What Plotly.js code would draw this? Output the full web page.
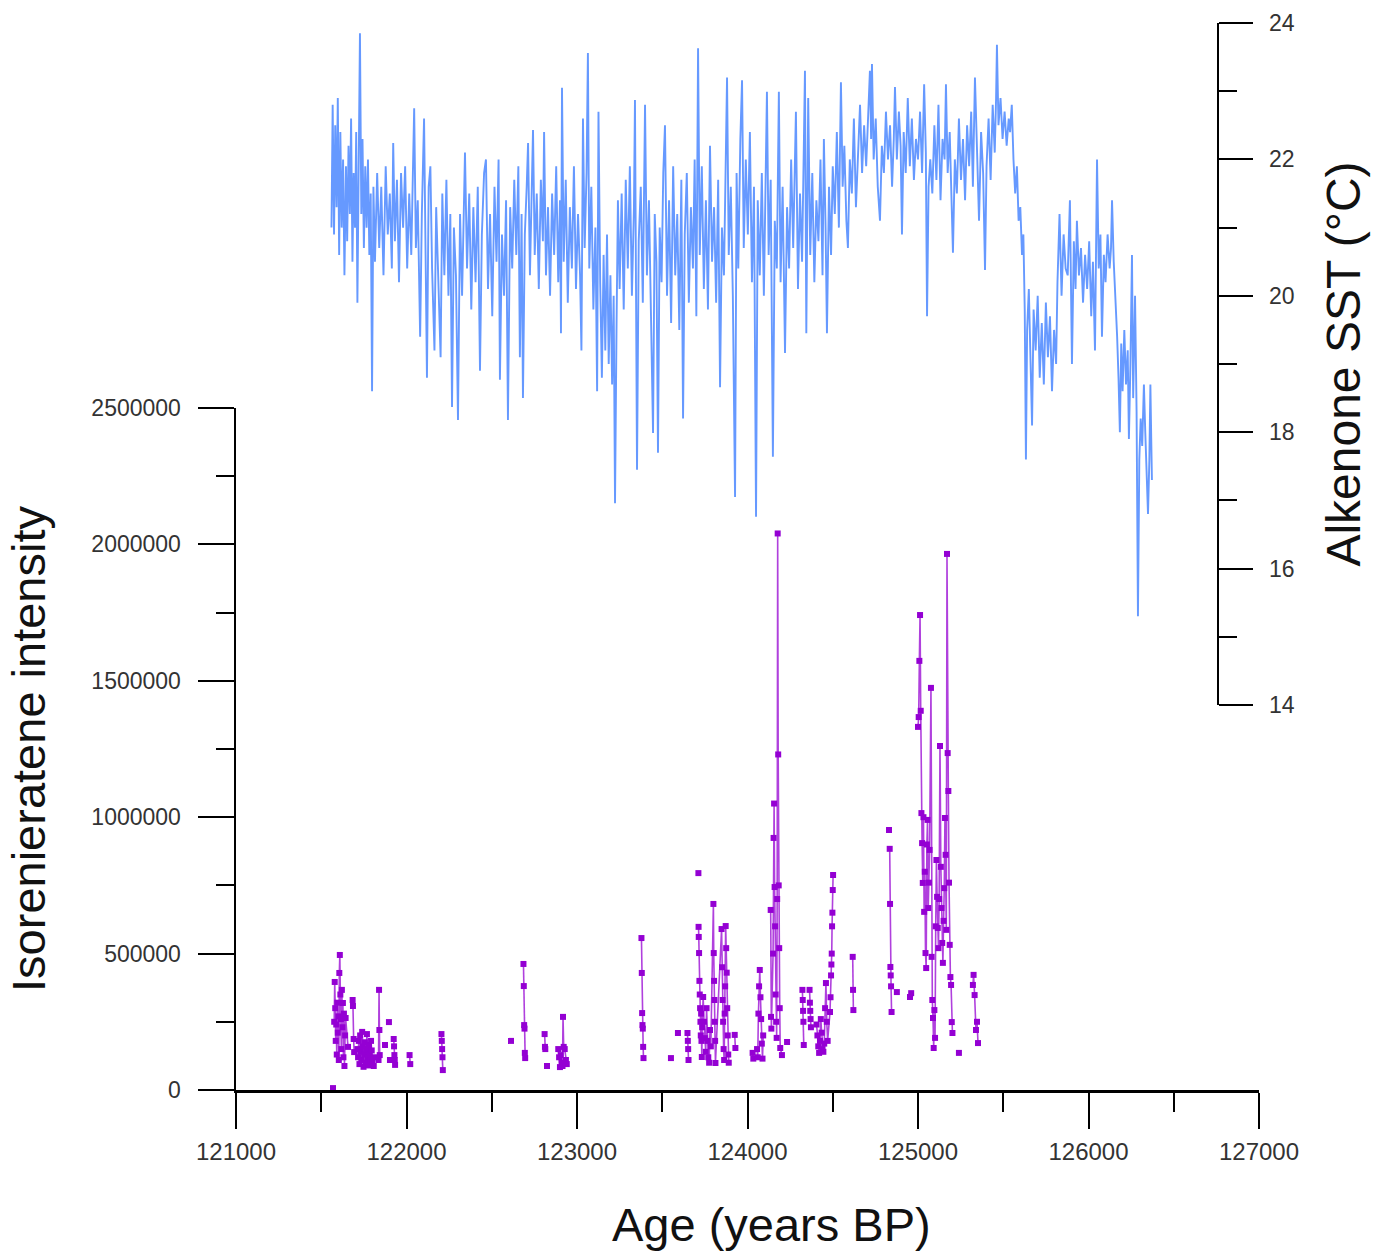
<!DOCTYPE html>
<html><head><meta charset="utf-8">
<script src="https://cdn.plot.ly/plotly-3.0.1.min.js"></script>
<style>html,body{margin:0;padding:0;background:#fff}#chart{width:1389px;height:1253px}</style>
</head><body><div id="chart"></div>
<script>
// Alkenone SST (°C) record
const sstAge = [
121560,121567,121575,121582,121590,121597,121605,121612,121620,121628,121636,121645,121652,121660,121668,121675,121683,121690,121698,121705,121712,121720,121727,121735,121742,121750,121758,121766,121774,121782,121790,121798,121806,
121815,121828,121840,121852,121865,121878,121890,121902,121914,121922,121932,121944,121956,121968,121980,121992,122004,122016,122028,122038,122045,122055,122066,122080,122090,122103,122112,122120,
122130,122140,122150,122164,122174,122186,122200,122210,122222,122234,122246,122257,122267,122278,122290,122302,
122314,122326,122343,122355,122368,122380,122392,122405,122418,122431,122442,122455,122466,122478,122490,122503,122516,122528,122540,122548,122560,122572,122584,122595,
122608,122620,122632,122644,122656,122665,122675,122683,122694,122705,122713,122724,122735,122742,122752,122764,122776,122788,122800,122807,122818,122830,122842,122854,
122866,122878,122890,122900,122906,122912,122922,122934,122946,122958,122970,122982,122994,123006,123018,123026,123035,123045,123056,123064,123072,123084,123096,123108,123118,123126,123136,123146,
123156,123166,123176,123186,123196,123206,123215,123223,123232,123240,
123250,123262,123274,123286,123298,123310,123322,123334,123340,123352,123362,123374,123386,123399,123410,123422,123434,123446,123456,123466,123475,123485,123496,123506,123516,
123528,123540,123552,123564,123576,123588,123600,123612,123622,123632,123644,123656,123668,123680,123690,123700,123710,123720,
123732,123744,123756,123768,123780,123792,123804,123816,123828,123839,123850,123862,123872,123880,123890,123902,123914,123927,
123936,123946,123958,123968,123978,123990,124002,124014,124026,124038,124050,
124060,124072,124084,124096,124106,124114,124124,124136,124149,124160,124172,124184,
124194,124206,124220,124232,124244,124256,124268,124284,124296,124308,124320,124330,124337,124345,124356,124368,124380,124392,124404,124416,124428,124440,124448,124458,124466,124478,124490,124500,
124512,124524,124536,124548,124558,124568,124580,124589,124600,124612,124624,124636,124648,
124660,124672,124684,124696,124708,124718,124725,124730,124740,124752,124764,124777,124788,124800,124812,124824,124836,124848,124858,124865,124876,124888,
124898,124906,124916,124928,124940,124952,124964,124976,124988,125000,125012,125024,125036,125046,
125053,125062,125072,
125084,125096,125108,125120,125132,125144,125156,125164,125174,125186,125196,125205,125216,125228,125240,125252,125264,125276,125288,125300,125312,125322,125334,125346,125358,125370,125382,125393,
125402,125414,125426,125438,125450,125458,125463,125472,125484,125496,125508,125520,125532,125540,125550,
125560,125570,125580,125590,125600,125610,125618,
125626,125633,125640,
125650,125660,125669,125678,125690,125702,125714,125726,125738,125750,125762,125774,125786,125798,125810,125818,
125830,125842,125854,125866,125878,125891,125903,125914,125924,125932,125944,125956,125968,125980,125992,126004,126016,126026,126038,126050,126060,126070,126079,126090,126100,126112,126124,126132,126138,126148,126158,
126168,126176,126184,126192,126200,126210,126220,126230,126237,126246,126255,126262,126273,126282,126290,
126298,126306,126315,126325,126333,126341,126349,126357,126363,126368,126372
];
const sstVal = [
21.0,22.8,20.9,22.5,21.3,22.9,20.6,22.4,21.0,22.0,20.3,21.9,20.8,22.2,21.2,22.6,20.5,21.8,21.0,22.4,19.9,22.0,23.85,21.2,22.3,20.7,21.9,21.0,22.0,20.6,21.5,18.6,21.6,
20.5,21.8,20.7,21.6,20.3,21.9,20.9,21.5,20.4,22.24,20.8,21.7,20.2,21.8,21.0,21.9,20.4,21.5,20.6,21.8,22.75,20.7,21.4,19.4,21.2,22.6,20.5,18.8,
21.6,21.9,20.4,19.2,21.3,20.1,19.1,21.5,20.3,21.7,20.0,21.2,18.37,21.0,20.3,18.18,
21.2,20.0,22.1,20.4,21.5,19.8,21.3,20.2,21.6,18.9,20.9,21.8,22.0,20.1,21.2,19.7,21.6,20.5,22.0,18.77,20.9,20.0,21.4,18.18,
21.3,20.4,21.7,20.6,21.9,19.1,21.2,18.5,20.9,21.6,22.24,20.3,21.8,22.43,20.6,21.5,20.1,21.7,20.8,22.4,20.3,21.3,20.0,21.5,
20.6,21.9,20.2,21.4,19.45,23.05,20.5,21.7,19.9,21.3,20.4,21.9,20.1,21.2,20.3,19.2,22.6,20.7,21.8,23.56,20.4,21.6,19.8,21.0,18.6,22.7,20.2,18.8,
20.6,19.2,20.9,19.0,20.3,18.7,20.0,16.96,19.6,21.4,
20.1,21.5,19.8,21.7,20.4,21.9,20.0,21.3,22.87,17.45,20.8,21.6,19.9,22.8,20.3,21.4,19.7,17.99,21.2,20.5,17.7,21.0,20.2,21.8,22.5,
20.0,21.4,19.6,21.9,20.3,21.2,19.5,21.7,18.2,20.9,21.8,19.9,21.3,20.4,22.0,19.7,23.63,20.6,
21.9,20.1,21.4,19.8,22.2,20.5,21.3,19.9,21.7,18.66,21.0,20.3,21.8,23.2,20.6,21.6,20.0,17.05,
21.8,20.4,22.3,23.16,20.7,22.0,20.9,22.4,20.2,21.6,16.76,
21.4,20.3,21.8,20.0,21.5,22.99,20.6,21.7,17.64,21.1,20.4,22.99,
20.2,21.6,19.16,21.3,20.4,22.0,20.7,22.7,20.1,21.5,20.5,21.9,23.3,19.45,22.9,20.6,21.8,20.2,21.4,20.8,22.0,20.3,22.3,21.0,19.45,21.6,20.6,21.9,
21.2,22.4,21.0,23.13,21.6,22.2,21.1,20.7,22.0,21.5,22.6,21.3,22.2,
22.8,21.8,22.5,21.9,22.7,23.3,22.3,23.4,22.0,22.6,21.6,21.1,22.2,21.8,22.7,22.0,22.5,21.6,22.3,23.06,22.0,22.7,
22.2,20.9,22.4,21.8,22.9,21.9,22.6,21.7,22.3,22.0,22.7,21.8,23.1,22.1,
19.7,21.6,22.0,
21.5,22.5,21.7,22.8,21.4,22.3,22.0,23.1,21.8,22.4,21.3,20.63,22.0,21.5,22.6,21.7,22.3,21.4,22.5,21.9,22.7,21.6,23.2,22.0,21.1,22.4,21.8,20.38,
21.9,22.6,21.7,22.8,22.1,22.9,23.68,22.5,22.9,22.3,22.7,22.2,22.6,22.4,22.8,
22.0,21.5,21.9,21.1,21.3,20.6,20.9,
19.8,17.6,19.5,
20.1,19.0,18.1,19.8,19.2,20.0,18.8,19.6,18.7,19.9,19.1,19.7,18.6,19.5,19.0,20.2,
21.2,20.0,20.9,20.4,20.3,21.4,19.0,20.8,20.1,21.1,20.3,20.7,19.9,20.6,20.1,20.8,19.7,20.5,19.2,22.0,20.4,20.9,19.4,20.6,20.2,20.9,20.4,20.7,21.4,20.5,20.0,
19.4,18.8,18.0,19.3,18.6,19.5,18.7,19.2,17.9,19.0,20.6,18.5,20.0,18.3,15.3,
17.6,18.2,17.8,18.7,18.0,17.3,16.8,17.6,18.7,17.9,17.3
];

// Isorenieratene intensity, sample groups (lines break between groups)
const isoAgeGroups = [
[121569],
[121576,121579,121582,121585,121588,121591,121594,121597,121600,121603,121606,121609,121612,121615,121618,121621,121624,121627,121630,121633,121636,121640,121643,121657],
[121684,121686,121690,121693],
[121712,121716,121720,121724,121728,121732,121736,121740,121744,121748,121752,121756,121760,121764,121768,121772,121776,121780,121784,121788,121792,121796,121800,121808,121815],
[121836,121839,121841,121843],
[121874],[121897],[121903],
[121925,121927,121929,121931,121933],
[122018,122022],
[122205,122207,122209,122211,122213],
[122613],
[122686,122688,122690,122692,122694,122696],
[122810,122812,122814],
[122824],
[122890,122895,122900,122905,122910,122915,122918,122922,122928,122935,122940],
[123378,123380,123382,123384,123386,123388,123390],
[123551],[123592],
[123648,123650,123652,123654],
[123712],
[123713,123714,123716,123718,123720,123722,123724,123726,123728,123730,123732,123734,123740,123745,123750,123755,123760,123765,123770,123775,123780,123785,123800,123802,123804,123806,123808,123810,123812,123848,123851,123854,123857,123860,123863,123866,123869,123872,123875,123878,123881,123884,123887,123890],
[123925,123929],
[124030,124034],
[124056,124060,124064,124068,124072,124076,124080,124084,124088,124092],
[124136,124138,124140,124150,124153,124156,124159,124162,124165,124168,124171,124174,124177,124180,124183,124186,124189,124192,124202],
[124232],
[124322,124324,124326,124328,124330],
[124364,124366,124368,124370,124372],
[124405,124410,124415,124420,124425,124430,124435,124440,124445,124450,124455,124460,124465,124470,124484,124487,124490,124492,124494,124496,124498,124500,124502],
[124617,124619,124621],
[124830],
[124834,124836,124838,124840,124842,124845],
[124876],
[124953,124960],
[125000,125004,125008,125012,125016,125020,125024,125028,125032,125036,125040,125044,125048,125052,125056,125060,125064,125068,125076,125080,125084,125088,125092,125096,125100,125104,125108,125112,125116,125120,125124,125129,125134,125138,125142,125146,125150,125154,125158,125162,125166,125170,125174,125178,125182,125186,125190,125194,125198,125202],
[125240],
[125322,125326,125332,125340,125346,125352]
];
const isoValGroups = [
[7000],
[250000,396000,300000,180000,240000,130000,320000,210000,270000,110000,429000,495000,350000,260000,150000,367000,230000,319000,120000,280000,88000,200000,264000,158000],
[330000,308000,187000,139000],
[150000,120000,180000,95000,200000,140000,110000,213000,160000,85000,130000,175000,100000,150000,205000,120000,90000,165000,130000,110000,180000,145000,100000,88000,120000],
[110000,367000,220000,128000],
[165000],[249000],[110000],
[187000,160000,128000,110000,92000],
[128000,95000],
[205000,180000,150000,120000,73000],
[180000],
[462000,381000,238000,225000,136000,117000],
[205000,158000,150000],
[88000],
[150000,120000,84000,128000,100000,88000,268000,158000,150000,110000,95000],
[557000,429000,282000,238000,225000,158000,117000],
[117000],[209000],
[209000,180000,150000,110000],
[795000],
[598000,561000,502000,400000,350000,300000,250000,200000,280000,180000,121000,230000,341000,250000,190000,140000,300000,180000,120000,100000,220000,160000,682000,502000,400000,330000,250000,180000,99000,590000,450000,330000,250000,150000,110000,280000,380000,601000,520000,430000,300000,200000,130000,100000],
[202000,154000],
[136000,115000],
[150000,120000,280000,380000,440000,340000,260000,170000,115000,200000],
[660000,268000,225000,500000,924000,1050000,744000,600000,350000,250000,191000,700000,2040000,1230000,750000,520000,300000,154000,128000],
[176000],
[367000,330000,290000,250000,165000],
[367000,320000,290000,260000,230000],
[240000,200000,160000,136000,180000,260000,210000,150000,140000,170000,300000,392000,250000,180000,286000,340000,420000,460000,500000,600000,650000,733000,788000],
[488000,367000,293000],
[953000],
[884000,682000,451000,420000,380000,286000],
[359000],
[341000,355000],
[1331000,1367000,1573000,1741000,1390000,1015000,905000,759000,1000000,653000,800000,502000,447000,900000,990000,667000,760000,880000,1474000,488000,330000,264000,154000,293000,191000,600000,843000,708000,594000,520000,700000,1261000,818000,667000,539000,466000,620000,740000,997000,862000,587000,1965000,1235000,1096000,760000,532000,414000,385000,249000,209000],
[136000],
[385000,422000,348000,220000,250000,172000]
];

const xTickVals = [121000,122000,123000,124000,125000,126000,127000];
const xTickText = ['121000','122000','123000','124000','125000','126000','127000'];
const isoTickVals = [0,500000,1000000,1500000,2000000,2500000];
const isoTickText = ['0','500000','1000000','1500000','2000000','2500000'];
const sstTickVals = [14,16,18,20,22,24];
const sstTickText = ['14','16','18','20','22','24'];

const isoX = [], isoY = [];
isoAgeGroups.forEach((g, i) => {
  g.forEach((a, j) => { isoX.push(a); isoY.push(isoValGroups[i][j]); });
  isoX.push(null); isoY.push(null);
});

const tickFont = {family: 'Liberation Sans, Arial, sans-serif', size: 23, color: '#333'};
const titleFont = {family: 'Liberation Sans, Arial, sans-serif', size: 47, color: '#111'};

const traces = [
  {x: sstAge, y: sstVal, type: 'scatter', mode: 'lines', xaxis: 'x', yaxis: 'y2',
   line: {color: '#6699ff', width: 1.9}, hoverinfo: 'skip'},
  {x: isoX, y: isoY, type: 'scatter', mode: 'lines+markers', xaxis: 'x', yaxis: 'y',
   connectgaps: false, cliponaxis: false,
   line: {color: 'rgba(150,0,210,0.75)', width: 1.6},
   marker: {symbol: 'square', size: 6, color: '#9400d3'}, hoverinfo: 'skip'}
];

const layout = {
  width: 1389, height: 1253,
  margin: {l: 236, r: 130, t: 23, b: 163, pad: 0},
  paper_bgcolor: '#ffffff', plot_bgcolor: 'rgba(0,0,0,0)',
  showlegend: false,
  xaxis: {
    range: [121000, 127000], domain: [0, 1], anchor: 'y',
    showline: true, linewidth: 2.5, linecolor: '#000', mirror: false,
    ticks: 'outside', ticklen: 36, tickwidth: 2, tickcolor: '#000',
    tickvals: xTickVals, ticktext: xTickText, tickfont: {family: 'Liberation Sans, Arial, sans-serif', size: 24, color: '#333'},
    ticklabelstandoff: 3,
    minor: {dtick: 500, tick0: 121000, ticks: 'outside', ticklen: 19, tickwidth: 2, tickcolor: '#000', showgrid: false},
    showgrid: false, zeroline: false
  },
  yaxis: {
    range: [0, 2500000], domain: [0, 0.6392], anchor: 'x', side: 'left',
    showline: true, linewidth: 2.5, linecolor: '#000',
    ticks: 'outside', ticklen: 36, tickwidth: 2, tickcolor: '#000',
    tickvals: isoTickVals, ticktext: isoTickText, tickfont: tickFont,
    ticklabelstandoff: 12,
    minor: {dtick: 250000, tick0: 0, ticks: 'outside', ticklen: 18, tickwidth: 2, tickcolor: '#000', showgrid: false},
    showgrid: false, zeroline: false,
    title: {text: 'Isorenieratene intensity', font: titleFont, standoff: 31}
  },
  yaxis2: {
    range: [14, 24], domain: [0.3608, 1], anchor: 'free', position: 0.9599, side: 'right',
    showline: true, linewidth: 2.5, linecolor: '#000',
    ticks: 'outside', ticklen: 34, tickwidth: 2, tickcolor: '#000',
    tickvals: sstTickVals, ticktext: sstTickText, tickfont: tickFont,
    ticklabelstandoff: 11,
    minor: {dtick: 1, tick0: 14, ticks: 'outside', ticklen: 18, tickwidth: 2, tickcolor: '#000', showgrid: false},
    showgrid: false, zeroline: false,
    title: {text: 'Alkenone SST (°C)', font: {family: 'Liberation Sans, Arial, sans-serif', size: 48, color: '#111'}, standoff: 32}
  },
  annotations: [
    {text: 'Age (years BP)', xref: 'paper', yref: 'paper', x: 0.5239, y: -0.1265,
     xanchor: 'center', yanchor: 'middle', showarrow: false, font: titleFont}
  ]
};

Plotly.newPlot('chart', traces, layout, {staticPlot: true, displayModeBar: false});
</script>
</body></html>
